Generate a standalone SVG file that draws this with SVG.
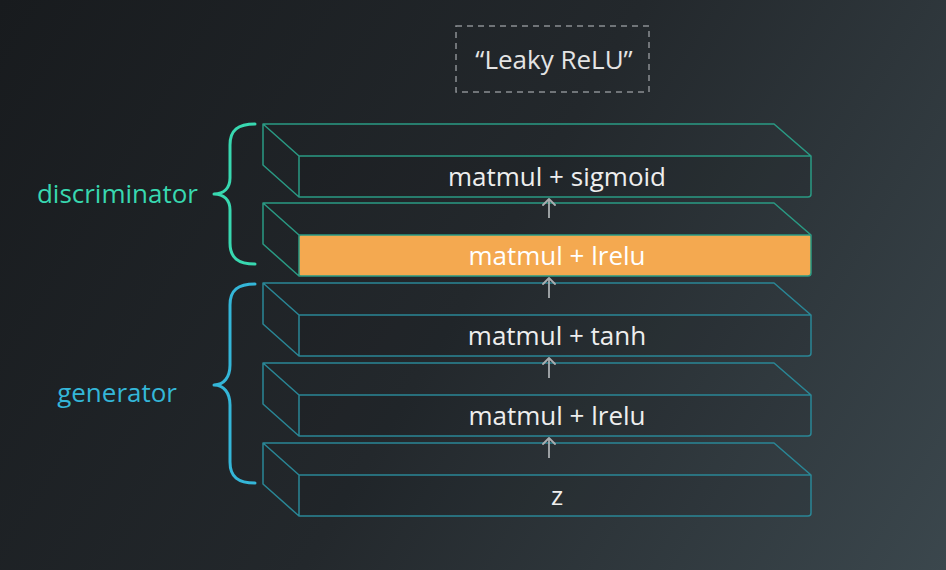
<svg xmlns="http://www.w3.org/2000/svg" width="946" height="570" viewBox="0 0 946 570">
<defs>
<linearGradient id="bg" x1="0" y1="0" x2="946" y2="570" gradientUnits="userSpaceOnUse">
<stop offset="0" stop-color="#181b1e"/>
<stop offset="0.5" stop-color="#23282c"/>
<stop offset="1" stop-color="#3b474d"/>
</linearGradient>
<marker id="ah" viewBox="0 0 8 14" refX="7" refY="7" markerWidth="8" markerHeight="14" markerUnits="userSpaceOnUse" orient="auto">
<path d="M1,1 L7,7 L1,13" fill="none" stroke="#a9adb0" stroke-width="1.8" stroke-linecap="round" stroke-linejoin="round"/>
</marker>
<style>
.lbl{font-family:"Open Sans","Liberation Sans",sans-serif;font-size:26px;fill:#eeeeee;text-anchor:middle}
.slab-d{fill:none;stroke:#2a9a84;stroke-width:1.5;stroke-linejoin:round}
.slab-g{fill:none;stroke:#2a8796;stroke-width:1.5;stroke-linejoin:round}
.front{fill:#000000;fill-opacity:0.06}
.arrow{stroke:#a9adb0;stroke-width:1.8;fill:none}
.brace{fill:none;stroke-width:3;stroke-linecap:round;stroke-linejoin:round}
</style>
</defs>
<rect width="946" height="570" fill="url(#bg)"/>

<g id="leaky-relu-note">
<rect x="456" y="26" width="193" height="66" fill="none" stroke="#8a8f93" stroke-width="1.5" stroke-dasharray="6 5"/>
<text class="lbl" x="554" y="69" style="fill:#e4e4e4">“Leaky ReLU”</text>
</g>

<g id="discriminator-label">
<path class="brace" stroke="#38d8b0" d="M255,124 C238,124 230,130 230,145 V178 C230,188 224,194 214,194 C224,194 230,200 230,210 V243 C230,258 238,264 255,264"/>
<text class="lbl" x="198" y="203" style="fill:#38d8b0;text-anchor:end">discriminator</text>
</g>

<g id="generator-label">
<path class="brace" stroke="#34b6d8" d="M255,284 C238,284 230,290 230,305 V365 C230,377 224,385 214,385 C224,385 230,393 230,405 V462 C230,477 238,483 255,483"/>
<text class="lbl" x="177" y="402" style="fill:#34b6d8;text-anchor:end">generator</text>
</g>

<g id="layer-sigmoid">
<rect class="front" x="299" y="156" width="512" height="41" rx="3"/>
<path class="slab-d" d="M263,124 H774 L811,156 V194 Q811,197 808,197 H299 L263,165 Z M263,124 L299,156 H811 M299,156 V197"/>
<text class="lbl" x="557" y="186">matmul + sigmoid</text>
</g>

<g id="layer-lrelu-d">
<rect x="299" y="235" width="512" height="41" rx="2" fill="#f4a950"/>
<path class="slab-d" d="M263,203 H774 L811,235 V273 Q811,276 808,276 H299 L263,244 Z M263,203 L299,235 H811 M299,235 V276"/>
<text class="lbl" x="557" y="265" style="fill:#ffffff">matmul + lrelu</text>
</g>

<g id="layer-tanh">
<rect class="front" x="299" y="315" width="512" height="41" rx="3"/>
<path class="slab-g" d="M263,283 H774 L811,315 V353 Q811,356 808,356 H299 L263,324 Z M263,283 L299,315 H811 M299,315 V356"/>
<text class="lbl" x="557" y="345">matmul + tanh</text>
</g>

<g id="layer-lrelu-g">
<rect class="front" x="299" y="395" width="512" height="41" rx="3"/>
<path class="slab-g" d="M263,363 H774 L811,395 V433 Q811,436 808,436 H299 L263,404 Z M263,363 L299,395 H811 M299,395 V436"/>
<text class="lbl" x="557" y="425">matmul + lrelu</text>
</g>

<g id="layer-z">
<rect class="front" x="299" y="475" width="512" height="41" rx="3"/>
<path class="slab-g" d="M263,443 H774 L811,475 V513 Q811,516 808,516 H299 L263,484 Z M263,443 L299,475 H811 M299,475 V516"/>
<text class="lbl" x="557" y="505">z</text>
</g>

<g id="connectors">
<line class="arrow" x1="549" y1="218" x2="549" y2="199" marker-end="url(#ah)"/>
<line class="arrow" x1="549" y1="298" x2="549" y2="278" marker-end="url(#ah)"/>
<line class="arrow" x1="549" y1="378" x2="549" y2="358" marker-end="url(#ah)"/>
<line class="arrow" x1="549" y1="458" x2="549" y2="438" marker-end="url(#ah)"/>
</g>
</svg>
